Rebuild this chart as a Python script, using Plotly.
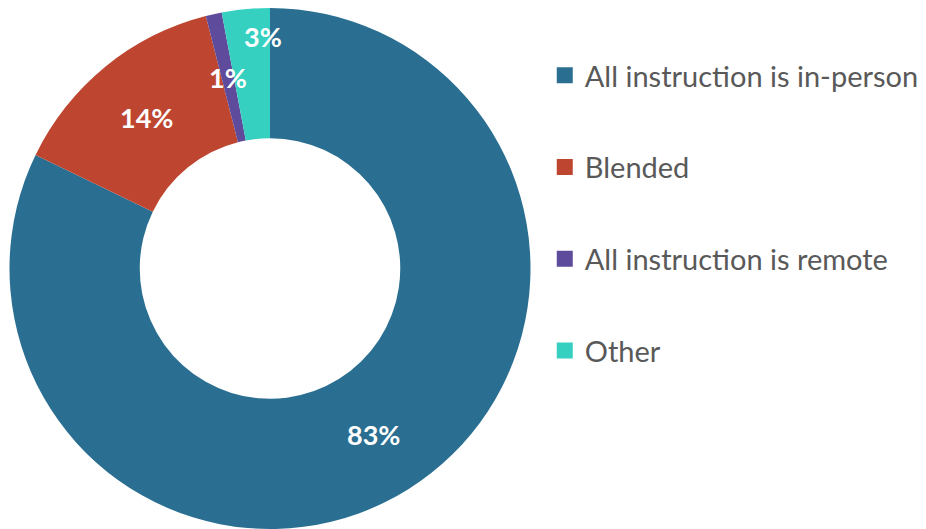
import math
import plotly.graph_objects as go

categories = ["All instruction is in-person", "Blended", "All instruction is remote", "Other"]
values = [83, 14, 1, 3]
label_text = ["83%", "14%", "1%", "3%"]
colors = ["#2A6F91", "#BE4630", "#5F4B9B", "#36D0C0"]

W, H = 926, 529
M_T, M_B, M_L, M_R = 8, 0, 0, 0
pie_dx = [0, 540 / W]
HOLE = 0.5
label_r = [0.75, 0.75, 0.75, 0.89]
label_dtheta = [0, 0, 0, 3.5]  # degrees nudge

fig = go.Figure()
fig.add_trace(go.Pie(
    labels=categories, values=values, hole=HOLE, sort=False,
    direction="clockwise", rotation=0,
    marker=dict(colors=colors, line=dict(color="white", width=0)),
    textinfo="none", showlegend=False, domain=dict(x=pie_dx, y=[0, 1]),
))

# legend entries
for c, col in zip(categories, colors):
    fig.add_trace(go.Scatter(
        x=[None], y=[None], mode="markers", name=c, legendgroup=c,
        marker=dict(symbol="square", size=18, color=col),
        hoverinfo="skip",
    ))

# label annotations placed from slice angles
pw = W - M_L - M_R
ph = H - M_T - M_B
cx = M_L + (pie_dx[0] + pie_dx[1]) / 2 * pw
cy = M_T + ph / 2
R = min((pie_dx[1] - pie_dx[0]) * pw, ph) / 2
tot = sum(values)
cum = 0
for v, t, rf, dt in zip(values, label_text, label_r, label_dtheta):
    mid = (cum + v / 2) / tot
    cum += v
    th = 2 * math.pi * mid + math.radians(dt)
    x = cx + rf * R * math.sin(th)
    y = cy - rf * R * math.cos(th)
    fig.add_annotation(
        x=(x - M_L) / pw, y=(H - M_B - y) / ph, xref="paper", yref="paper",
        xanchor="center", yanchor="middle",
        text=f"<b>{t}</b>", showarrow=False,
        font=dict(family="Lato", size=27, color="white"),
    )

fig.update_layout(
    width=W, height=H, margin=dict(l=M_L, r=M_R, t=M_T, b=M_B),
    paper_bgcolor="white", plot_bgcolor="white",
    xaxis=dict(visible=False), yaxis=dict(visible=False),
    legend=dict(
        x=0.5883, y=0.6065, xanchor="left", yanchor="middle",
        font=dict(family="Lato", size=29, color="#595959"),
        tracegroupgap=51, itemclick=False,
    ),
    showlegend=True,
)
fig.write_html("out.html", config={"displayModeBar": False},
               post_script="document.body.style.margin='0';")
